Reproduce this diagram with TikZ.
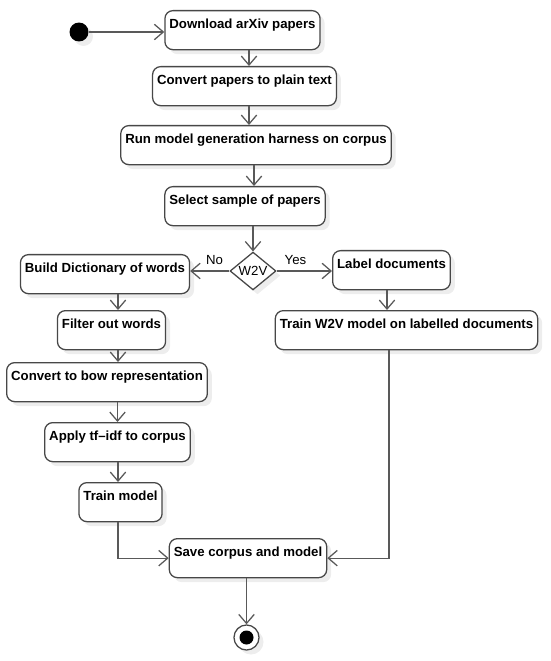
\documentclass[tikz,border=0pt]{standalone}
\usepackage{fontspec}
\setmainfont{Liberation Sans}
\usetikzlibrary{arrows.meta,shapes.geometric,shadows}

\begin{document}
\begin{tikzpicture}[x=0.025cm, y=-0.025cm,
    font=\fontsize{9.4}{11}\selectfont,
    shade/.style={drop shadow={shadow xshift=3.2pt, shadow yshift=-3.2pt, opacity=1, fill=black!7}},
    act/.style={draw=black!72, line width=0.9pt, rounded corners=5.7pt, fill=white, shade,
      anchor=north, inner xsep=3.2pt, inner ysep=0pt, text height=12.45pt, text depth=15.3pt,
      font=\fontsize{9.4}{11}\selectfont\bfseries},
    flow/.style={draw=black!65, line width=0.9pt, -{Straight Barb[length=6.4pt, width=11pt]}}]
  \useasboundingbox (0,0) rectangle (550,661);

  \node[circle, fill=black, minimum size=13.5pt, inner sep=0pt, shade] (st) at (79,32) {};
  \node[act] (dl) at (242.5,10) {Download arXiv papers};
  \node[act] (cv) at (244.5,66) {Convert papers to plain text};
  \node[act] (run) at (256,125) {Run model generation harness on corpus};
  \node[act] (sel) at (245,186) {Select sample of papers};
  \node[diamond, draw=black!72, line width=0.9pt, fill=white, shade, inner sep=0pt,
    minimum width=32.7pt, minimum height=24.9pt] (dec) at (253,271) {W2V};
  \node[act] (bd) at (105,254) {Build Dictionary of words};
  \node[act] (ld) at (391.5,250) {Label documents};
  \node[act] (fo) at (111.5,310) {Filter out words};
  \node[act] (tw) at (406.5,310) {Train W2V model on labelled documents};
  \node[act] (bow) at (107,362) {Convert to bow representation};
  \node[act] (tfidf) at (117.5,422) {Apply tf--idf to corpus};
  \node[act] (tm) at (120.5,482) {Train model};
  \node[act] (save) at (248,538) {Save corpus and model};
  \node[circle, draw=black!72, line width=0.9pt, fill=white, minimum size=17.8pt, inner sep=0pt, shade] (en) at (246.5,637.5) {};
  \fill (en.center) circle (7);

  \draw[flow] (st) -- (dl.west |- st);
  \draw[flow] (dl.south -| 249,0) -- (cv.north -| 249,0);
  \draw[flow] (cv.south -| 249,0) -- (run.north -| 249,0);
  \draw[flow] (run.south -| 254,0) -- (sel.north -| 254,0);
  \draw[flow] (sel.south -| dec.north) -- (dec.north);
  \draw[flow] (dec.west) -- (bd.east |- dec.west) node[pos=0.38, above, yshift=1pt] {No};
  \draw[flow] (dec.east) -- (ld.west |- dec.east) node[pos=0.34, above, yshift=1pt] {Yes};
  \draw[flow] (ld.south -| 387,0) -- (tw.north -| 387,0);
  \draw[flow] (bd.south -| 118,0) -- (fo.north -| 118,0);
  \draw[flow] (fo.south -| 118,0) -- (bow.north -| 118,0);
  \draw[flow] (bow.south -| 117.5,0) -- (tfidf.north -| 117.5,0);
  \draw[flow] (tfidf.south -| 118,0) -- (tm.north -| 118,0);
  \draw[flow] (tm.south -| 118,0) |- (save.west);
  \draw[flow] (tw.south -| 389,0) |- (save.east);
  \draw[flow] (save.south -| en.north) -- (en.north);
\end{tikzpicture}
\end{document}
